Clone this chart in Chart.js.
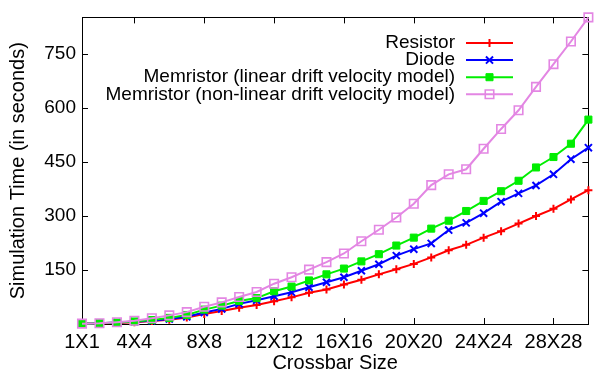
<!DOCTYPE html>
<html>
<head>
<meta charset="utf-8">
<title>Simulation Time vs Crossbar Size</title>
<script src="https://cdn.jsdelivr.net/npm/chart.js@4.4.0/dist/chart.umd.min.js"></script>
<style>
    html, body { margin: 0; padding: 0; background: #fff; }
    #wrap { width: 596px; height: 375px; }
</style>
</head>
<body>
<div id="wrap"><canvas id="chart" width="596" height="375"></canvas></div>
<script>
// -------------------------------------------------------------------------
// Data
// -------------------------------------------------------------------------
const crossbarSizes = [1, 2, 3, 4, 5, 6, 7, 8, 9, 10, 11, 12, 13, 14, 15,
    16, 17, 18, 19, 20, 21, 22, 23, 24, 25, 26, 27, 28, 29, 30];
const xTickSizes = [1, 4, 8, 12, 16, 20, 24, 28];
const yTickValues = [150, 300, 450, 600, 750];

const resistorTimes = [1, 2, 3, 5, 8, 12, 18, 28, 36, 45, 53, 63, 74, 87, 96,
    110, 123, 138, 152, 167, 185, 205, 220, 240, 258, 279, 300, 320, 346, 372];
const diodeTimes = [1, 2, 4, 6, 9, 14, 20, 32, 42, 56, 66, 77, 88, 102, 116,
    130, 148, 166, 190, 208, 224, 261, 281, 308, 340, 363, 385, 416, 458, 490];
const memLinearTimes = [1, 2, 4, 7, 11, 17, 25, 40, 51, 64, 72, 91, 104, 121, 138,
    154, 174, 194, 218, 240, 265, 287, 314, 342, 369, 398, 435, 464, 501, 568];
const memNonLinearTimes = [1, 2, 5, 9, 16, 24, 33, 48, 60, 75, 89, 112, 130, 151, 172,
    196, 230, 262, 296, 334, 386, 416, 430, 487, 542, 594, 659, 722, 785, 852];

const FONT_FAMILY = '"Liberation Sans", Arial, Helvetica, sans-serif';

// -------------------------------------------------------------------------
// Helpers
// -------------------------------------------------------------------------
function toPoints(values) {
    return values.map((v, i) => ({ x: crossbarSizes[i], y: v }));
}

function series(label, values, color, style, radius, extra) {
    return Object.assign({
        label: label,
        data: toPoints(values),
        borderColor: color,
        backgroundColor: color,
        borderWidth: 2,
        pointStyle: style,
        pointRadius: radius,
        pointHoverRadius: radius,
        pointBorderColor: color,
        pointBackgroundColor: color,
        pointBorderWidth: 2,
        tension: 0,
        clip: false
    }, extra || {});
}

// Frame and inward tick marks (gnuplot style, mirrored on all sides)
const framePlugin = {
    id: 'frame',
    beforeDatasetsDraw(chart) {
        const { ctx, chartArea: a, scales } = chart;
        const tick = 6;
        ctx.save();
        ctx.strokeStyle = '#000';
        ctx.lineWidth = 1;
        ctx.beginPath();
        scales.y.ticks.forEach(t => {
            const y = Math.round(scales.y.getPixelForValue(t.value)) + 0.5;
            ctx.moveTo(a.left, y); ctx.lineTo(a.left + tick, y);
            ctx.moveTo(a.right, y); ctx.lineTo(a.right - tick, y);
        });
        scales.x.ticks.forEach(t => {
            const x = Math.round(scales.x.getPixelForValue(t.value)) + 0.5;
            ctx.moveTo(x, a.bottom); ctx.lineTo(x, a.bottom - tick);
            ctx.moveTo(x, a.top); ctx.lineTo(x, a.top + tick);
        });
        ctx.stroke();
        ctx.strokeRect(Math.round(a.left) + 0.5, Math.round(a.top) + 0.5,
            Math.round(a.right - a.left), Math.round(a.bottom - a.top));
        ctx.restore();
    }
};

// Legend: right aligned text with line sample to the right
const legendPlugin = {
    id: 'sideLegend',
    afterDraw(chart) {
        const { ctx } = chart;
        const textRight = 455, lineStart = 466, lineEnd = 513;
        const rowTop = 43, rowGap = 17.1;
        ctx.save();
        ctx.font = '19px ' + FONT_FAMILY;
        ctx.textAlign = 'right';
        ctx.textBaseline = 'middle';
        chart.data.datasets.forEach((ds, i) => {
            const y = rowTop + i * rowGap;
            ctx.fillStyle = '#000';
            ctx.fillText(ds.label, textRight, y);
            ctx.strokeStyle = ds.borderColor;
            ctx.lineWidth = ds.borderWidth;
            ctx.beginPath();
            ctx.moveTo(lineStart, y);
            ctx.lineTo(lineEnd, y);
            ctx.stroke();
            ctx.fillStyle = ds.pointBackgroundColor;
            ctx.lineWidth = ds.pointBorderWidth;
            Chart.helpers.drawPoint(ctx, {
                pointStyle: ds.pointStyle,
                radius: ds.pointRadius,
                rotation: 0,
                borderWidth: ds.pointBorderWidth
            }, (lineStart + lineEnd) / 2, y);
        });
        ctx.restore();
    }
};

// -------------------------------------------------------------------------
// Chart
// -------------------------------------------------------------------------
const chart = new Chart(document.getElementById('chart').getContext('2d'), {
    type: 'line',
    data: {
        datasets: [
            series('Resistor', resistorTimes, '#ff0000', 'cross', 4, { order: 4 }),
            series('Diode', diodeTimes, '#0000ff', 'crossRot', 5, { order: 3 }),
            series('Memristor (linear drift velocity model)', memLinearTimes, '#00ee00', 'rect', 5, { order: 2, pointBorderWidth: 1 }),
            series('Memristor (non-linear drift velocity model)', memNonLinearTimes, '#e386e3', 'rect', 6, {
                order: 1,
                pointBackgroundColor: 'rgba(0,0,0,0)',
                pointBorderWidth: 1.6
            })
        ]
    },
    options: {
        responsive: false,
        animation: false,
        devicePixelRatio: 1,
        layout: { padding: { top: 15, right: 3, left: 0, bottom: 0 } },
        plugins: {
            legend: { display: false },
            tooltip: { enabled: false }
        },
        scales: {
            x: {
                type: 'linear',
                min: 1,
                max: 30,
                grid: { display: false, drawTicks: false },
                border: { display: false },
                afterBuildTicks: (axis) => {
                    axis.ticks = xTickSizes.map(v => ({ value: v }));
                },
                afterFit: (scale) => { scale.height = 51; },
                ticks: {
                    autoSkip: false,
                    maxRotation: 0,
                    padding: 6,
                    color: '#000',
                    font: { family: FONT_FAMILY, size: 20 },
                    callback: (v) => v + 'X' + v
                },
                title: {
                    display: true,
                    text: 'Crossbar Size',
                    color: '#000',
                    padding: { top: 0, bottom: 0 },
                    font: { family: FONT_FAMILY, size: 20 }
                }
            },
            y: {
                min: 0,
                max: 852,
                grid: { display: false, drawTicks: false },
                border: { display: false },
                afterBuildTicks: (axis) => {
                    axis.ticks = yTickValues.map(v => ({ value: v }));
                },
                afterFit: (scale) => { scale.width = 82; },
                ticks: {
                    padding: 6,
                    color: '#000',
                    font: { family: FONT_FAMILY, size: 19 }
                },
                title: {
                    display: true,
                    text: 'Simulation Time (in seconds)',
                    color: '#000',
                    padding: { top: 6, bottom: 0 },
                    font: { family: FONT_FAMILY, size: 20 }
                }
            }
        }
    },
    plugins: [framePlugin, legendPlugin]
});
</script>
</body>
</html>
